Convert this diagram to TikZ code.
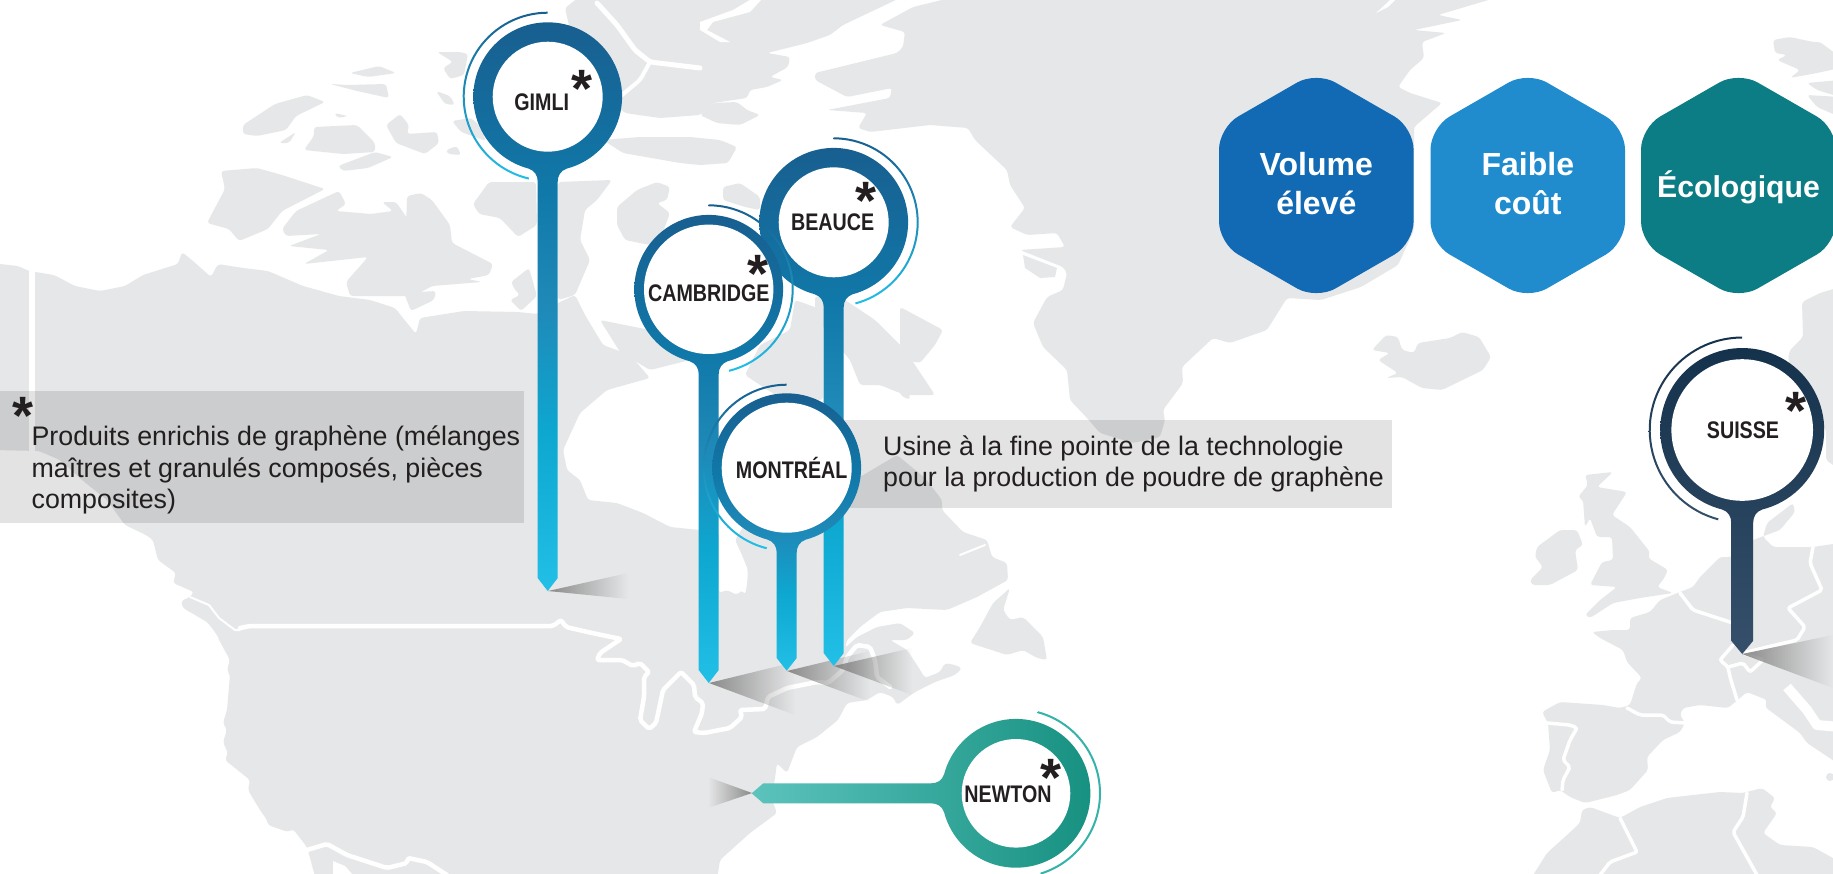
\documentclass[tikz,border=0pt]{standalone}
\usepackage{fontspec}
\setmainfont{Liberation Sans}
\newfontfamily\pinfont[FakeStretch=0.82]{Liberation Sans}
\usetikzlibrary{fadings,shadings}
\definecolor{land}{HTML}{E6E7E8}
\definecolor{inkc}{HTML}{231F20}
\definecolor{pa}{HTML}{185F90}
\definecolor{pb}{HTML}{1079A9}
\definecolor{pc}{HTML}{1F89B8}
\definecolor{pd}{HTML}{0DA7D0}
\definecolor{pe}{HTML}{22BFE6}
\definecolor{hexA}{HTML}{116AB3}
\definecolor{hexB}{HTML}{208CCE}
\definecolor{hexC}{HTML}{0C7C85}
\definecolor{suisA}{HTML}{15324C}
\definecolor{suisB}{HTML}{36506B}
\definecolor{newA}{HTML}{5CC3BD}
\definecolor{newB}{HTML}{179181}
\definecolor{newC}{HTML}{35B3A8}
\pgfdeclareverticalshading{pinblue}{100bp}{color(0bp)=(pe); color(25bp)=(pe); color(39bp)=(pd); color(50bp)=(pc); color(60bp)=(pb); color(75bp)=(pa); color(100bp)=(pa)}
\tikzfading[name=fadeToRight, left color=transparent!15, right color=transparent!100]
\tikzfading[name=fadeToLeft, right color=transparent!15, left color=transparent!100]
\tikzset{
  landshape/.style={fill=land,rounded corners=3pt},
  borderline/.style={draw=white,line width=4.5pt,line join=round,line cap=round,rounded corners=2pt},
  thinborder/.style={draw=white,line width=2pt,line join=round,line cap=round},
  wedgeshadow/.style={fill=black!52,path fading=fadeToRight},
  notebox/.style={fill=black,opacity=.11},
  hexlabel/.style={text=white,font=\fontsize{32}{39}\selectfont\bfseries,align=center,inner sep=0pt},
  pinhole/.style={circle,fill=white,inner sep=0pt},
  pinlabel/.style={text=inkc,font=\pinfont\fontsize{24}{24}\selectfont\bfseries,anchor=base,inner sep=0pt},
  starmark/.style={text=inkc,font=\fontsize{54}{54}\selectfont\bfseries,anchor=base,inner sep=0pt},
  notetext/.style={text=inkc,font=\fontsize{26.8}{31.5}\selectfont,align=left,anchor=north west,inner sep=0pt}
}
% cx cy R halfwidth stemend tip shadestyle
\newcommand\pinbody[7]{%
  \pgfmathsetmacro\pinSa{asin((#4+9)/#3)}%
  \pgfmathsetmacro\pinSy{#2+#3*cos(\pinSa)}%
  \pgfmathsetmacro\pinSb{\pinSy+13}%
  \pgfmathsetmacro\pinSc{\pinSb-6}%
  \pgfmathsetmacro\pinDa{-90+\pinSa}%
  \pgfmathsetmacro\pinDb{270-\pinSa}%
  \shade[#7] (#1-#4,#5) -- (#1,#6) -- (#1+#4,#5) -- (#1+#4,\pinSb)
    .. controls (#1+#4,\pinSc) and (#1+#4+3,\pinSy+2) .. (#1+#4+9,\pinSy)
    -- plot[domain=\pinDa:\pinDb,samples=90] ({#1+#3*cos(\x)},{#2-#3*sin(\x)})
    -- (#1-#4-9,\pinSy) .. controls (#1-#4-3,\pinSy+2) and (#1-#4,\pinSc) .. (#1-#4,\pinSb) -- cycle;
}
% cx cy R a b topcolor bottomcolor
\newcommand\pinarc[7]{%
  \shade[top color=#6,bottom color=#7]
    plot[domain=#4:#5,samples=50] ({#1+(#3+1)*cos(\x)},{#2-(#3+1)*sin(\x)})
    -- plot[domain=#5:#4,samples=50] ({#1+(#3-1)*cos(\x)},{#2-(#3-1)*sin(\x)}) -- cycle;
}
\begin{document}
\begin{tikzpicture}[x=1pt,y=-1pt]
\useasboundingbox (0,0) rectangle (1833,873);
\begin{scope}
\clip (0,0) rectangle (1833,873);
\fill[white] (0,0) rectangle (1833,873);
% ---- land: North America
\fill[landshape] (0,264)--(18,266)--(29,271)--(54,275)--(75,286)--(100,291)--(125,286)--(143,275)--(178,264)--(182,252)--(193,261)--(211,277)--(218,264)--(243,268)--(268,271)--(303,286)--(339,296)--(370,300)--(395,308)--(403,318)--(416,334)--(420,318)--(464,311)--(518,312)--(537,314)--(558,303)--(575,295)--(585,315)--(603,345)--(630,355)--(650,378)--(607,390)--(580,413)--(563,450)--(567,470)--(580,480)--(588,500)--(617,503)--(643,513)--(670,527)--(700,530)--(719,532)--(719,593)--(727,590)--(737,595)--(742,590)--(745,595)--(747,585)--(748,570)--(742,555)--(735,540)--(760,500)--(800,440)--(860,477)--(897,455)--(925,478)--(942,500)--(942,510)--(963,532)--(987,540)--(992,557)--(1007,563)--(1008,580)--(977,597)--(947,610)--(907,608)--(880,612)--(860,627)--(847,640)--(845,648)--(857,637)--(877,627)--(900,623)--(915,633)--(907,640)--(890,640)--(907,650)--(917,665)--(925,678)--(940,672)--(945,663)--(955,665)--(962,668)--(955,675)--(935,682)--(915,692)--(897,705)--(893,697)--(880,692)--(867,700)--(847,703)--(838,720)--(817,737)--(797,747)--(787,773)--(777,763)--(772,800)--(777,813)--(750,833)--(720,860)--(717,880)--(316,880)--(307,847)--(293,829)--(288,832)--(268,825)--(267,820)--(260,810)--(248,790)--(250,780)--(225,760)--(228,753)--(223,742)--(227,730)--(223,723)--(227,710)--(230,675)--(227,670)--(230,660)--(219,640)--(219,638)--(212,628)--(207,622)--(183,608)--(181,601)--(190,597)--(194,592)--(173,583)--(176,573)--(158,560)--(153,540)--(146,535)--(125,525)--(107,500)--(82,480)--(60,460)--(39,451)--(-5,450)--(-5,264)--cycle;
\fill[white] (333,861)--(345,866)--(353,875)--(333,875)--cycle;
% ---- land: Arctic islands
\fill[landshape] (565,8)--(578,-2)--(900,-2)--(843,25)--(830,35)--(807,43)--(767,53)--(790,57)--(788,67)--(770,77)--(783,80)--(767,87)--(750,90)--(747,98)--(713,103)--(700,115)--(660,118)--(625,113)--(610,100)--(590,60)--(570,30)--cycle;
\fill[white] (700,22)--(733,10)--(753,-2)--(763,-2)--(750,12)--(713,22)--(707,30)--(730,42)--(720,42)--(700,30)--cycle;
\draw[draw=white,line width=5pt,line cap=round,line join=round,rounded corners=3pt] (597,3)--(617,25)--(635,50)--(650,62)--(700,68);
\draw[draw=white,line width=4pt,line cap=round,line join=round,rounded corners=3pt] (650,62)--(640,80)--(622,95);
\fill[landshape] (603,140)--(640,137)--(690,137)--(720,140)--(737,147)--(728,163)--(700,165)--(680,163)--(623,153)--cycle;
\fill[landshape] (713,103)--(737,102)--(747,110)--(760,115)--(740,125)--(717,123)--(700,115)--cycle;
\fill[landshape] (437,52)--(460,52)--(468,54)--(464,75)--(450,79)--(443,68)--(453,62)--cycle;
\fill[landshape] (350,73)--(379,66)--(396,73)--(368,77)--cycle;
\fill[landshape] (330,84)--(357,91)--(389,98)--(386,84)--(348,85)--cycle;
\fill[landshape] (436,91)--(450,96)--(455,105)--(445,104)--cycle;
\fill[landshape] (452,121)--(471,118)--(479,125)--(486,141)--(461,132)--cycle;
\fill[landshape] (243,125)--(275,104)--(307,95)--(325,102)--(296,116)--(286,130)--(257,136)--(243,134)--cycle;
\fill[landshape] (279,143)--(296,132)--(289,143)--cycle;
\fill[landshape] (334,113)--(348,116)--(338,118)--cycle;
\fill[landshape] (314,127)--(357,125)--(375,143)--(375,152)--(343,154)--(304,150)--(314,136)--cycle;
\fill[landshape] (386,125)--(400,114)--(409,125)--(407,134)--(437,132)--(439,143)--(425,154)--(396,143)--cycle;
\fill[landshape] (338,166)--(375,152)--(393,157)--(368,168)--(343,171)--cycle;
\fill[landshape] (446,150)--(457,146)--(461,155)--(448,154)--cycle;
\fill[landshape] (221,171)--(257,168)--(282,175)--(325,189)--(282,211)--(268,229)--(239,241)--(229,229)--(207,223)--(225,189)--cycle;
\fill[landshape] (282,229)--(296,211)--(339,191)--(346,204)--(336,211)--(371,214)--(393,211)--(382,202)--(396,202)--(407,218)--(413,227)--(406,230)--(407,196)--(421,193)--(432,200)--(450,225)--(452,243)--(493,264)--(489,275)--(468,279)--(482,282)--(432,286)--(414,296)--(350,296)--(346,282)--(368,257)--(304,264)--(329,250)--(289,246)--(321,234)--(286,236)--cycle;
\fill[landshape] (473,204)--(489,182)--(536,182)--(537,225)--(518,237)--(500,218)--(479,214)--cycle;
\fill[landshape] (511,282)--(529,268)--(537,296)--(521,311)--(510,300)--(520,295)--(515,290)--cycle;
\fill[landshape] (404,293)--(436,291)--(434,300)--(411,311)--cycle;
\fill[landshape] (558,182)--(612,180)--(597,200)--(585,210)--(580,240)--(590,260)--(575,295)--(558,300)--cycle;
\fill[landshape] (617,207)--(637,190)--(657,182)--(670,187)--(667,200)--(657,203)--(670,213)--(660,240)--(650,245)--(625,240)--(617,225)--cycle;
\fill[landshape] (723,187)--(740,183)--(760,197)--(760,210)--(745,207)--(723,200)--cycle;
\fill[landshape] (815,296)--(845,300)--(875,320)--(905,350)--(935,395)--(905,395)--(880,385)--(860,385)--(850,360)--(825,330)--(815,310)--cycle;
\fill[landshape] (795,300)--(823,310)--(823,400)--(780,398)--(745,375)--(760,345)--(790,330)--cycle;
\fill[landshape] (600,320)--(650,330)--(690,360)--(650,370)--(620,352)--cycle;
\fill[landshape] (900,307)--(915,315)--(943,330)--(935,345)--(920,363)--(905,360)--(900,350)--cycle;
\fill[landshape] (900,373)--(908,385)--(910,400)--(900,395)--cycle;
% ---- land: Greenland
\fill[landshape] (950,-2)--(913,7)--(880,25)--(905,32)--(903,47)--(897,53)--(815,73)--(815,80)--(847,97)--(892,88)--(890,98)--(827,110)--(867,113)--(858,128)--(870,132)--(930,125)--(968,128)--(975,140)--(1007,170)--(1010,185)--(1025,208)--(1010,227)--(1027,235)--(1057,233)--(1065,247)--(1020,250)--(1063,267)--(1067,273)--(1063,290)--(1047,297)--(1033,323)--(1043,347)--(1067,370)--(1070,400)--(1087,418)--(1100,433)--(1133,443)--(1160,437)--(1165,420)--(1163,410)--(1183,383)--(1182,367)--(1213,338)--(1230,343)--(1267,330)--(1287,298)--(1321,300)--(1361,287)--(1398,265)--(1414,230)--(1414,127)--(1442,103)--(1410,93)--(1398,87)--(1410,70)--(1424,58)--(1422,42)--(1446,33)--(1414,30)--(1462,20)--(1438,15)--(1495,-2)--cycle;
\fill[land] (1023,255)--(1057,268)--(1055,277)--(1040,278)--(1025,268)--cycle;
\fill[white] (1376,13)--(1390,0)--(1395,0)--(1388,7)--cycle;
% ---- Iceland, Svalbard, Scandinavia
\fill[landshape] (1372,350)--(1386,335)--(1398,337)--(1402,350)--(1414,353)--(1418,343)--(1450,338)--(1462,332)--(1479,337)--(1491,357)--(1483,370)--(1442,390)--(1422,388)--(1402,377)--(1386,378)--(1398,373)--(1378,360)--(1390,353)--cycle;
\fill[landshape] (1773,40)--(1790,37)--(1813,42)--(1820,42)--(1840,57)--(1840,68)--(1817,73)--(1790,78)--(1800,70)--(1777,60)--(1787,55)--(1775,53)--cycle;
\fill[landshape] (1807,83)--(1840,80)--(1840,97)--(1817,90)--cycle;
\fill[landshape] (1807,95)--(1840,97)--(1840,117)--(1817,107)--cycle;
\fill[landshape] (1802,302)--(1820,293)--(1840,287)--(1840,470)--(1826,460)--(1826,430)--(1800,400)--(1788,358)--(1790,350)--(1803,337)--cycle;
% ---- Newfoundland
\fill[landshape] (1010,588)--(1003,610)--(1010,620)--(1023,617)--(1043,637)--(1047,660)--(1037,658)--(1023,650)--(1007,655)--(970,643)--(980,627)--(993,603)--cycle;
% ---- Ireland, Britain
\fill[landshape] (1537,547)--(1560,530)--(1577,530)--(1583,545)--(1575,550)--(1578,570)--(1550,585)--(1532,585)--(1530,580)--(1543,567)--(1535,557)--cycle;
\fill[landshape] (1585,475)--(1613,472)--(1597,487)--(1627,492)--(1612,515)--(1630,527)--(1650,552)--(1648,558)--(1668,570)--(1663,580)--(1657,587)--(1673,593)--(1640,598)--(1613,603)--(1590,618)--(1585,615)--(1600,600)--(1617,587)--(1590,585)--(1602,562)--(1613,560)--(1612,537)--(1597,537)--(1590,518)--(1585,527)--(1583,500)--(1578,497)--(1588,485)--cycle;
% ---- continental Europe
\fill[landshape] (1840,543)--(1813,547)--(1800,547)--(1773,547)--(1763,537)--(1767,523)--(1780,513)--(1793,503)--(1795,512)--(1780,530)--(1753,540)--(1731,557)--(1720,557)--(1700,577)--(1693,587)--(1680,592)--(1660,600)--(1650,612)--(1630,618)--(1630,630)--(1613,630)--(1592,632)--(1600,638)--(1623,650)--(1627,662)--(1642,678)--(1637,683)--(1630,705)--(1620,708)--(1603,705)--(1560,702)--(1542,712)--(1548,723)--(1550,750)--(1543,770)--(1552,793)--(1560,790)--(1570,797)--(1585,803)--(1617,795)--(1630,790)--(1648,770)--(1647,757)--(1663,740)--(1680,732)--(1685,723)--(1680,715)--(1683,708)--(1700,705)--(1728,708)--(1747,692)--(1767,700)--(1765,707)--(1800,733)--(1807,743)--(1840,765)--cycle;
\draw[draw=white,line width=10pt,line join=round] (1787,687)--(1807,710)--(1817,725)--(1840,727);
\fill[land] (1830,777) circle[radius=4pt];
% ---- North Africa
\fill[landshape] (1530,880)--(1547,853)--(1567,835)--(1580,823)--(1582,810)--(1590,807)--(1620,818)--(1640,807)--(1667,798)--(1693,795)--(1720,792)--(1743,793)--(1762,788)--(1775,798)--(1770,807)--(1777,813)--(1763,833)--(1780,845)--(1813,847)--(1840,862)--(1840,880)--cycle;
% ---- borders
\draw[borderline,line width=6pt] (32,271)--(32,451);
\draw[borderline] (240,628)--(250,626)--(553,626)--(561,620)--(566,627)--(592,633)--(621,639)--(600,653)--(597,660)--(622,660)--(633,666)--(640,663)--(649,672)--(644,677)--(644,697)--(640,720)--(649,729)--(656,723)--(663,690)--(673,680)--(681,672)--(694,685)--(695,697)--(703,703)--(702,713)--(694,732)--(704,733)--(730,728)--(742,717)--(740,710)--(765,709)--(768,697)--(787,688)--(817,682)--(828,683)--(843,670)--(847,657)--(857,645)--(870,647)--(875,660)--(877,677)--(890,687);
\draw[borderline] (307,850)--(327,844)--(347,855)--(387,868)--(407,863)--(408,858)--(427,862)--(447,875);
\draw[thinborder] (190,597)--(209,605)--(219,618)--(235,630)--(240,630);
\draw[thinborder] (960,555)--(985,545);
\draw[borderline,line width=3.5pt] (1680,593)--(1693,610)--(1733,623);
\draw[borderline,line width=3.5pt] (1733,645)--(1720,660)--(1728,667)--(1730,677)--(1737,700);
\draw[borderline,line width=3.5pt] (1728,667)--(1743,663)--(1750,672)--(1763,660)--(1743,653)--(1767,647)--(1797,640)--(1805,627)--(1788,608)--(1822,590)--(1810,563)--(1813,547);
\draw[borderline,line width=3.5pt] (1627,708)--(1640,715)--(1663,715)--(1670,722)--(1685,723);
\draw[borderline,line width=3.5pt] (1547,723)--(1570,725)--(1577,728)--(1570,740)--(1563,760)--(1570,767)--(1563,780)--(1562,790);
\draw[borderline,line width=3.5pt] (1620,818)--(1637,852)--(1610,862)--(1600,875);
\draw[borderline,line width=3.5pt] (1747,793)--(1743,817)--(1733,832)--(1757,875);
% ---- shadows
\fill[wedgeshadow] (548,591)--(628,573)--(628,599)--cycle;
\fill[wedgeshadow] (709,683)--(795,662)--(795,715)--cycle;
\fill[wedgeshadow] (787,671)--(870,651)--(870,702)--cycle;
\fill[wedgeshadow] (834,666)--(912,648)--(912,695)--cycle;
\fill[wedgeshadow] (1742,654)--(1833,635)--(1833,688)--cycle;
\fill[fill=black!52,path fading=fadeToLeft] (752,793)--(708,777)--(708,808)--cycle;
% ---- note boxes
\fill[notebox] (0,391) rectangle (524,523);
\fill[notebox] (843,420) rectangle (1392,508);
% ---- hexagons
\fill[fill=hexA,rounded corners=22pt] (1316.3,71.5)--(1413.6,127.5)--(1413.6,243.5)--(1316.3,299.5)--(1219,243.5)--(1219,127.5)--cycle;
\fill[fill=hexB,rounded corners=22pt] (1527.8,71.5)--(1625,127.5)--(1625,243.5)--(1527.8,299.5)--(1430.5,243.5)--(1430.5,127.5)--cycle;
\fill[fill=hexC,rounded corners=22pt] (1738.5,71.5)--(1836,127.5)--(1836,243.5)--(1738.5,299.5)--(1641,243.5)--(1641,127.5)--cycle;
\node[hexlabel,anchor=base] (volume) at (1316.3,175) {Volume};
\node[hexlabel,anchor=base] (eleve) at (1316.3,214) {élevé};
\node[hexlabel,anchor=base] (faible) at (1527.8,175) {Faible};
\node[hexlabel,anchor=base] (cout) at (1527.8,214) {coût};
\node[hexlabel,anchor=base,font=\fontsize{30.2}{39}\selectfont\bfseries] (ecolo) at (1738.5,197) {Écologique};
% ---- pins
\pinarc{547.7}{96.7}{84}{90}{257}{pa}{pe}
\pinbody{547.7}{96.7}{74.4}{10}{578}{591}{shading=pinblue}
\node[pinhole,minimum size=110pt] (gimli) at (547.7,96.7) {};
\node[pinlabel] (gimlit) at (541.7,110.7) {GIMLI};
\node[starmark] (gimlis) at (582,107.7) {*};
\pinarc{833.7}{222.3}{84}{90}{-75}{pa}{pe}
\pinbody{833.7}{222.3}{74.4}{10}{653}{666}{shading=pinblue}
\node[pinhole,minimum size=110pt] (beauce) at (833.7,222.3) {};
\node[pinlabel] (beauct) at (832.7,230.7) {BEAUCE};
\node[starmark] (beaucs) at (866,219.7) {*};
\pinarc{708.7}{289.3}{84}{90}{-76}{pa}{pe}
\pinbody{708.7}{289.3}{74.4}{10}{670}{683}{shading=pinblue}
\node[pinhole,minimum size=129.4pt] (cambridge) at (708.7,289.3) {};
\node[pinlabel] (cambrt) at (708.8,301.7) {CAMBRIDGE};
\node[starmark] (cambrs) at (758,292.7) {*};
\pinarc{786.7}{467.7}{83}{90}{256}{pa}{pe}
\pinbody{786.7}{467.7}{74.4}{10}{658}{670.7}{shading=pinblue}
\node[pinhole,minimum size=130pt] (montreal) at (786.7,467.7) {};
\node[pinlabel] (montrt) at (791.7,478.7) {MONTRÉAL};
\pinarc{1742.2}{430}{92.5}{90}{255}{suisA}{suisB}
\pinbody{1742.2}{430}{82}{11}{640.7}{654}{top color=suisA,bottom color=suisB}
\node[pinhole,minimum size=141.6pt] (suisse) at (1742.2,430) {};
\node[pinlabel] (suisst) at (1743,438.3) {SUISSE};
\node[starmark] (suisss) at (1795.5,429.7) {*};
% Newton, horizontal
\pinarc{1016}{793.3}{84}{75}{-73}{newC}{newC}
\pgfmathsetmacro\nwA{asin(19/74.4)}
\pgfmathsetmacro\nwB{180+\nwA}
\pgfmathsetmacro\nwC{540-\nwA}
\pgfmathsetmacro\nwX{1016-74.4*cos(\nwA)}
\shade[left color=newA,right color=newB] (763.3,783.3) -- (751.7,793.3) -- (763.3,803.3) -- (\nwX-13,803.3)
  .. controls (\nwX-7,803.3) and (\nwX-2,806) .. (\nwX,812.3)
  -- plot[domain=\nwB:\nwC,samples=90] ({1016+74.4*cos(\x)},{793.3-74.4*sin(\x)})
  -- (\nwX,774.3) .. controls (\nwX-2,780.6) and (\nwX-7,783.3) .. (\nwX-13,783.3) -- cycle;
\node[pinhole,minimum size=108.6pt] (newton) at (1016,793.3) {};
\node[pinlabel] (newtot) at (1008,802) {NEWTON};
\node[starmark] (newtos) at (1051,796.7) {*};
% ---- notes
\node[starmark] (notestar) at (23,434.7) {*};
\node[notetext] (note1) at (31.4,426) {Produits enrichis de graphène (mélanges\\maîtres et granulés composés, pièces\\composites)};
\node[notetext] (note2) at (883,435.5) {Usine à la fine pointe de la technologie\\pour la production de poudre de graphène};
\end{scope}
\end{tikzpicture}
\end{document}
